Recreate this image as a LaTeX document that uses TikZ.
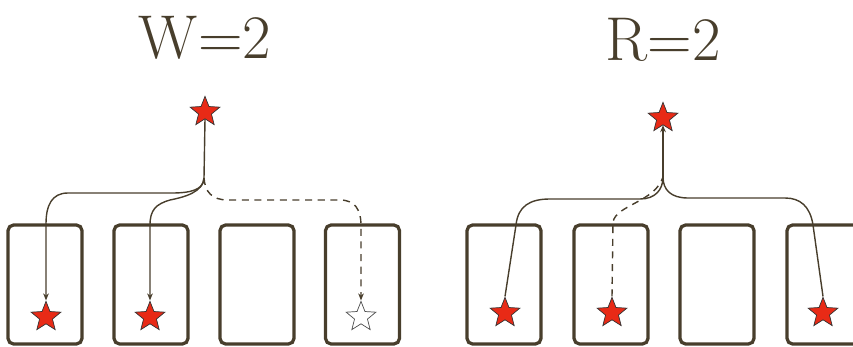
\documentclass[tikz,border=0pt]{standalone}
\usepackage{tikz}
\usetikzlibrary{arrows.meta,shapes.geometric}

\definecolor{inkbrown}{RGB}{72,62,44}
\definecolor{starred}{RGB}{232,42,22}

\begin{document}
\begin{tikzpicture}[
    x=0.025cm, y=-0.025cm,
    replica/.style={
        rectangle, draw=inkbrown, line width=2.3pt, rounded corners=4pt,
        minimum width=1.85cm, minimum height=2.975cm
    },
    item/.style={
        star, star points=5, star point ratio=2.3,
        draw=black!80, fill=starred, line width=0.5pt,
        minimum size=0.78cm, inner sep=0pt
    },
    ghost/.style={item, fill=white, draw=black!70},
    title/.style={text=inkbrown, font=\fontsize{44}{44}\selectfont},
    >={Stealth[length=5pt,width=4pt]},
    link/.style={draw=inkbrown, line width=1pt},
    miss/.style={link, dash pattern=on 5pt off 4pt}
]
\useasboundingbox (0,0) rectangle (853,347);

% titles
\node[title] (wtitle) at (205,38) {W=2};
\node[title] (rtitle) at (663,40) {R=2};

% replicas
\node[replica] (wb1) at (45,  284.5) {};
\node[replica] (wb2) at (151, 284.5) {};
\node[replica] (wb3) at (257, 284.5) {};
\node[replica] (wb4) at (362.5, 284.5) {};
\node[replica] (rb1) at (504, 284.5) {};
\node[replica] (rb2) at (611, 284.5) {};
\node[replica] (rb3) at (717, 284.5) {};
\node[replica] (rb4) at (824, 284.5) {};

% write side
\node[item]  (wtop) at (205, 112) {};
\node[item]  (w1)   at (46,  317) {};
\node[item]  (w2)   at (150, 317) {};
\node[ghost] (w4)   at (361, 317) {};
\coordinate (wj) at (204,178);

\draw[link] (wtop.south) -- (wj);
\draw[link,->] (wj) .. controls (204,190) and (190,193) .. (172,193) -- (68,193)
    .. controls (52,193) and (46,205) .. (46,224) -- (w1.north);
\draw[link,->] (wj) .. controls (203,192) and (185,197) .. (170,200)
    .. controls (156,204) and (150,210) .. (150,225) -- (w2.north);
\draw[miss,->] (wj) .. controls (205,192) and (212,200) .. (228,200) -- (340,200)
    .. controls (355,200) and (361,210) .. (361,225) -- (w4.north);

% read side
\node[item] (rtop) at (663, 118) {};
\node[item] (r1)   at (505, 313) {};
\node[item] (r2)   at (612, 313) {};
\node[item] (r4)   at (823, 313) {};
\coordinate (rj) at (663,177);

\draw[link,->] (rj) -- (rtop.south);
\draw[link] (r1.north) -- (516,225) .. controls (518,206) and (530,199) .. (550,199)
    -- (640,199) .. controls (655,199) and (663,190) .. (rj);
\draw[miss] (r2.north) -- (613,222) .. controls (616,205) and (655,202) .. (rj);
\draw[link] (r4.north) -- (813,225) .. controls (810,206) and (800,198) .. (785,198)
    -- (688,198) .. controls (671,198) and (663,190) .. (rj);

\end{tikzpicture}
\end{document}
